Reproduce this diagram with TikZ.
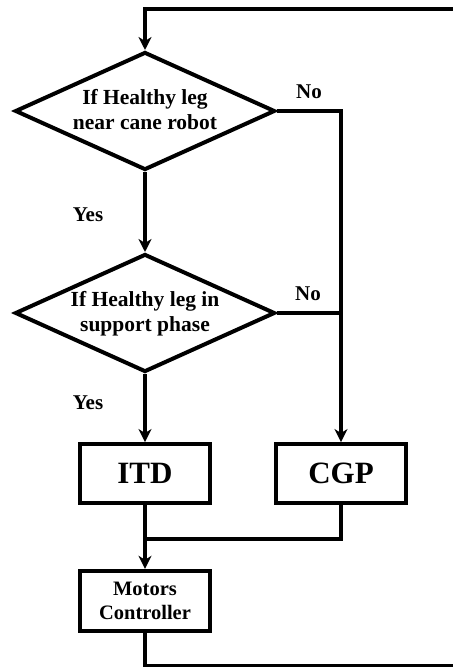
\documentclass[tikz,border=0pt]{standalone}
\usepackage{fontspec}
\setmainfont{Liberation Serif}
\usetikzlibrary{shapes.geometric,arrows.meta}

\tikzset{
  flow/.style={line width=4bp},
  arr/.style={flow,-{Stealth[length=13bp,width=13bp,inset=4bp]}},
  decision/.style={flow,draw,shape=diamond,minimum width=260bp,minimum height=118bp,
    aspect=2.2,inner sep=0pt,align=center,text depth=3bp,
    font=\bfseries\fontsize{21.5bp}{25bp}\selectfont},
  bigbox/.style={flow,draw,rectangle,minimum width=130bp,minimum height=58.5bp,
    inner sep=0pt,font=\bfseries\fontsize{31bp}{36bp}\selectfont},
  smallbox/.style={flow,draw,rectangle,minimum width=130bp,minimum height=60bp,
    inner sep=0pt,align=center,font=\bfseries\fontsize{20.5bp}{24.5bp}\selectfont},
  tag/.style={anchor=base,inner sep=0pt,font=\bfseries\fontsize{21bp}{24bp}\selectfont},
}

\begin{document}
\begin{tikzpicture}[x=1bp,y=-1bp]
  \useasboundingbox (0,0) rectangle (453,667);
  \clip (0,0) rectangle (453,667);

  % decisions
  \node[decision] (near) at (145,111) {If Healthy leg\\near cane robot};
  \node[decision] (phase) at (145,313) {If Healthy leg in\\support phase};

  % actions
  \node[bigbox] (itd) at (145,473.3) {ITD};
  \node[bigbox] (cgp) at (341,473.3) {CGP};
  \node[smallbox] (motors) at (145,600.8) {Motors\\Controller};

  % branch labels
  \node[tag] (no1) at (309,98.3) {No};
  \node[tag] (no2) at (308,300.5) {No};
  \node[tag] (yes1) at (88,221) {Yes};
  \node[tag] (yes2) at (88,409.5) {Yes};

  % routing points
  \coordinate (merge) at (145,539);
  \coordinate (loopBL) at (145,665.5);
  \coordinate (loopBR) at (480,665.5);
  \coordinate (loopTR) at (480,9.2);
  \coordinate (loopTL) at (145,9.2);

  % connectors
  \draw[arr] (near.south) -- (phase.north);
  \draw[arr] (near.east) -| (cgp.north);
  \draw[flow] (phase.east) -- (phase.east -| cgp.north);
  \draw[arr] (phase.south) -- (itd.north);
  \draw[flow] (cgp.south) |- (merge);
  \draw[arr] (itd.south) -- (motors.north);
  \draw[arr] (motors.south) -- (loopBL) -- (loopBR) -- (loopTR) -- (loopTL) -- (near.north);
\end{tikzpicture}
\end{document}
